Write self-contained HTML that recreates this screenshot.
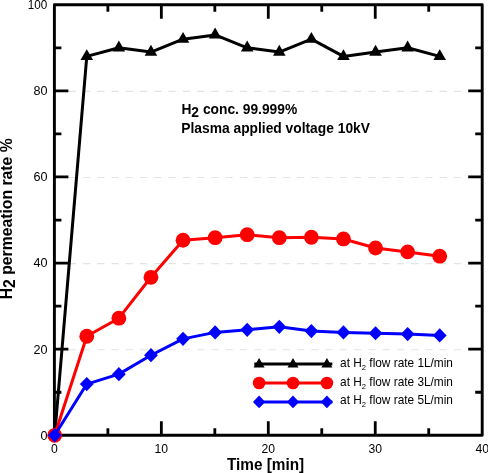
<!DOCTYPE html><html><head><meta charset="utf-8"><style>html,body{margin:0;padding:0;background:#fff;width:488px;height:473px;overflow:hidden}svg{display:block;will-change:transform}text{font-family:"Liberation Sans",sans-serif}</style></head><body>
<svg width="488" height="473" viewBox="0 0 488 473">
<line x1="54.40" y1="349.69" x2="482.20" y2="349.69" stroke="#e3e3e3" stroke-width="1.1" stroke-dasharray="7.2 7.07"/>
<line x1="54.40" y1="263.58" x2="482.20" y2="263.58" stroke="#e3e3e3" stroke-width="1.1" stroke-dasharray="7.2 7.07"/>
<line x1="54.40" y1="177.47" x2="482.20" y2="177.47" stroke="#e3e3e3" stroke-width="1.1" stroke-dasharray="7.2 7.07"/>
<line x1="54.40" y1="91.36" x2="482.20" y2="91.36" stroke="#e3e3e3" stroke-width="1.1" stroke-dasharray="7.2 7.07"/>
<path d="M107.88 435.30V428.30M107.88 4.75V11.75M161.35 435.30V421.30M161.35 4.75V18.75M214.83 435.30V428.30M214.83 4.75V11.75M268.30 435.30V421.30M268.30 4.75V18.75M321.77 435.30V428.30M321.77 4.75V11.75M375.25 435.30V421.30M375.25 4.75V18.75M428.72 435.30V428.30M428.72 4.75V11.75M54.40 392.25H61.40M482.20 392.25H475.20M54.40 349.19H68.40M482.20 349.19H468.20M54.40 306.13H61.40M482.20 306.13H475.20M54.40 263.08H68.40M482.20 263.08H468.20M54.40 220.03H61.40M482.20 220.03H475.20M54.40 176.97H68.40M482.20 176.97H468.20M54.40 133.92H61.40M482.20 133.92H475.20M54.40 90.86H68.40M482.20 90.86H468.20M54.40 47.81H61.40M482.20 47.81H475.20" stroke="#000" stroke-width="2.8" fill="none"/>
<rect x="54.40" y="4.75" width="427.80" height="430.55" fill="none" stroke="#000" stroke-width="2.9" stroke-linejoin="round"/>
<polyline points="54.70,435.30 86.78,56.42 118.87,47.81 150.96,52.11 183.04,39.19 215.12,34.89 247.21,47.81 279.30,52.11 311.38,39.19 343.46,56.42 375.55,52.11 407.63,47.81 439.72,56.42" fill="none" stroke="#000" stroke-width="3.0" stroke-linejoin="round"/>
<g fill="#000"><path d="M54.70 428.03L61.00 438.94L48.40 438.94Z"/><path d="M86.78 49.14L93.08 60.05L80.48 60.05Z"/><path d="M118.87 40.53L125.17 51.44L112.57 51.44Z"/><path d="M150.96 44.84L157.26 55.75L144.66 55.75Z"/><path d="M183.04 31.92L189.34 42.83L176.74 42.83Z"/><path d="M215.12 27.61L221.43 38.53L208.82 38.53Z"/><path d="M247.21 40.53L253.51 51.44L240.91 51.44Z"/><path d="M279.30 44.84L285.60 55.75L273.00 55.75Z"/><path d="M311.38 31.92L317.68 42.83L305.08 42.83Z"/><path d="M343.46 49.14L349.76 60.05L337.16 60.05Z"/><path d="M375.55 44.84L381.85 55.75L369.25 55.75Z"/><path d="M407.63 40.53L413.94 51.44L401.33 51.44Z"/><path d="M439.72 49.14L446.02 60.05L433.42 60.05Z"/></g>
<polyline points="54.70,435.30 86.78,336.27 118.87,318.19 150.96,277.29 183.04,240.26 215.12,237.68 247.21,234.66 279.30,237.68 311.38,237.25 343.46,238.97 375.55,248.01 407.63,251.89 439.72,256.19" fill="none" stroke="#f00" stroke-width="3.0" stroke-linejoin="round"/>
<g fill="#f00"><circle cx="54.70" cy="435.30" r="7.4"/><circle cx="86.78" cy="336.27" r="7.4"/><circle cx="118.87" cy="318.19" r="7.4"/><circle cx="150.96" cy="277.29" r="7.4"/><circle cx="183.04" cy="240.26" r="7.4"/><circle cx="215.12" cy="237.68" r="7.4"/><circle cx="247.21" cy="234.66" r="7.4"/><circle cx="279.30" cy="237.68" r="7.4"/><circle cx="311.38" cy="237.25" r="7.4"/><circle cx="343.46" cy="238.97" r="7.4"/><circle cx="375.55" cy="248.01" r="7.4"/><circle cx="407.63" cy="251.89" r="7.4"/><circle cx="439.72" cy="256.19" r="7.4"/></g>
<polyline points="54.70,435.30 86.78,384.06 118.87,374.16 150.96,355.22 183.04,338.86 215.12,332.40 247.21,329.82 279.30,326.80 311.38,331.11 343.46,332.40 375.55,333.26 407.63,334.12 439.72,335.41" fill="none" stroke="#00f" stroke-width="3.0" stroke-linejoin="round"/>
<g fill="#00f"><path d="M54.70 428.20L61.60 435.30L54.70 442.40L47.80 435.30Z"/><path d="M86.78 376.96L93.69 384.06L86.78 391.16L79.88 384.06Z"/><path d="M118.87 367.06L125.77 374.16L118.87 381.26L111.97 374.16Z"/><path d="M150.96 348.12L157.86 355.22L150.96 362.32L144.06 355.22Z"/><path d="M183.04 331.76L189.94 338.86L183.04 345.96L176.14 338.86Z"/><path d="M215.12 325.30L222.03 332.40L215.12 339.50L208.22 332.40Z"/><path d="M247.21 322.72L254.11 329.82L247.21 336.92L240.31 329.82Z"/><path d="M279.30 319.70L286.19 326.80L279.30 333.90L272.40 326.80Z"/><path d="M311.38 324.01L318.28 331.11L311.38 338.21L304.48 331.11Z"/><path d="M343.46 325.30L350.36 332.40L343.46 339.50L336.56 332.40Z"/><path d="M375.55 326.16L382.45 333.26L375.55 340.36L368.65 333.26Z"/><path d="M407.63 327.02L414.53 334.12L407.63 341.22L400.74 334.12Z"/><path d="M439.72 328.31L446.62 335.41L439.72 342.51L432.82 335.41Z"/></g>
<line x1="254.3" y1="364.0" x2="332.3" y2="364.0" stroke="#000" stroke-width="3.0"/>
<g fill="#000"><path d="M259.10 357.95L264.60 367.48L253.60 367.48Z"/></g>
<g fill="#000"><path d="M293.00 357.95L298.50 367.48L287.50 367.48Z"/></g>
<g fill="#000"><path d="M326.90 357.95L332.40 367.48L321.40 367.48Z"/></g>
<line x1="254.3" y1="383.0" x2="332.3" y2="383.0" stroke="#f00" stroke-width="3.0"/>
<circle cx="259.1" cy="383.0" r="6.3" fill="#f00"/>
<circle cx="293.0" cy="383.0" r="6.3" fill="#f00"/>
<circle cx="326.9" cy="383.0" r="6.3" fill="#f00"/>
<line x1="254.3" y1="401.9" x2="332.3" y2="401.9" stroke="#00f" stroke-width="3.0"/>
<g fill="#00f"><path d="M259.10 395.50L265.20 401.90L259.10 408.30L253.00 401.90Z"/></g>
<g fill="#00f"><path d="M293.00 395.50L299.10 401.90L293.00 408.30L286.90 401.90Z"/></g>
<g fill="#00f"><path d="M326.90 395.50L333.00 401.90L326.90 408.30L320.80 401.90Z"/></g>
<text x="340.1" y="367.2" font-size="11.85" fill="#000">at H<tspan font-size="7.6" dy="3">2</tspan><tspan dy="-3"> flow rate 1L/min</tspan></text>
<text x="340.1" y="385.8" font-size="11.85" fill="#000">at H<tspan font-size="7.6" dy="3">2</tspan><tspan dy="-3"> flow rate 3L/min</tspan></text>
<text x="340.1" y="404.4" font-size="11.85" fill="#000">at H<tspan font-size="7.6" dy="3">2</tspan><tspan dy="-3"> flow rate 5L/min</tspan></text>
<text x="181.4" y="114.1" font-size="13.8" font-weight="bold" fill="#000">H<tspan dy="3.3">2</tspan><tspan dy="-3.3"> conc. 99.999%</tspan></text>
<text x="181.3" y="132.9" font-size="13.8" font-weight="bold" fill="#000">Plasma applied voltage 10kV</text>
<text x="47.4" y="439.70" font-size="12.6" text-anchor="end" fill="#000" transform="translate(47.4 439.70) scale(1 1.03) translate(-47.4 -439.70)">0</text>
<text x="47.4" y="353.59" font-size="12.6" text-anchor="end" fill="#000" transform="translate(47.4 353.59) scale(1 1.03) translate(-47.4 -353.59)">20</text>
<text x="47.4" y="267.48" font-size="12.6" text-anchor="end" fill="#000" transform="translate(47.4 267.48) scale(1 1.03) translate(-47.4 -267.48)">40</text>
<text x="47.4" y="181.37" font-size="12.6" text-anchor="end" fill="#000" transform="translate(47.4 181.37) scale(1 1.03) translate(-47.4 -181.37)">60</text>
<text x="47.4" y="95.26" font-size="12.6" text-anchor="end" fill="#000" transform="translate(47.4 95.26) scale(1 1.03) translate(-47.4 -95.26)">80</text>
<text x="47.4" y="9.15" font-size="12.6" text-anchor="end" fill="#000" transform="translate(47.4 9.15) scale(0.93 1.03) translate(-47.4 -9.15)">100</text>
<text x="54.40" y="453.2" font-size="12.2" text-anchor="middle" fill="#000">0</text>
<text x="161.35" y="453.2" font-size="12.2" text-anchor="middle" fill="#000">10</text>
<text x="268.30" y="453.2" font-size="12.2" text-anchor="middle" fill="#000">20</text>
<text x="375.25" y="453.2" font-size="12.2" text-anchor="middle" fill="#000">30</text>
<text x="482.20" y="453.2" font-size="12.2" text-anchor="middle" fill="#000">40</text>
<text transform="translate(265.6 469.6) scale(1 1.11)" font-size="15.35" font-weight="bold" text-anchor="middle" fill="#000">Time [min]</text>
<text transform="translate(11.9 218.8) rotate(-90)" font-size="15.75" font-weight="bold" text-anchor="middle" fill="#000">H<tspan dy="3.4">2</tspan><tspan dy="-3.4"> permeation rate %</tspan></text>
</svg></body></html>
